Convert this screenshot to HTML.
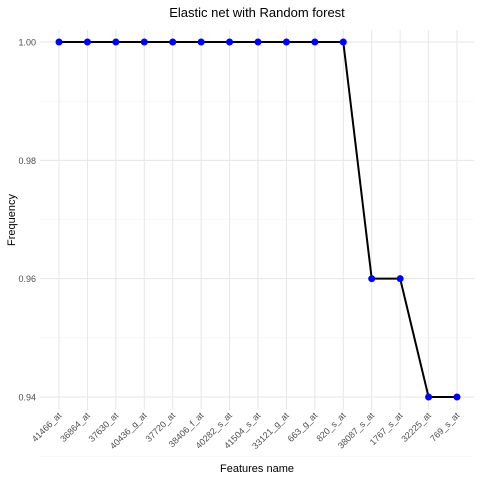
<!DOCTYPE html>
<html><head><meta charset="utf-8"><style>
body{margin:0;background:#fff;}
svg text{font-family:"Liberation Sans",Arial,sans-serif;}
</style></head><body>
<svg id="chart" width="480" height="480" xmlns="http://www.w3.org/2000/svg">
<text x="257" y="17" text-anchor="middle" font-size="13" fill="#000">Elastic net with Random forest</text>
<text x="257" y="472" text-anchor="middle" font-size="11" fill="#000">Features name</text>
<text transform="translate(15,220) rotate(-90)" text-anchor="middle" font-size="11" fill="#000">Frequency</text>
<g id="grid"></g><g id="series"></g><g id="labels"></g>
</svg>
<script>
const categories=["41466_at","36864_at","37630_at","40436_g_at","37720_at","38406_f_at","40282_s_at","41504_s_at","33121_g_at","663_g_at","820_s_at","38087_s_at","1767_s_at","32225_at","769_s_at"];
const frequency=[1,1,1,1,1,1,1,1,1,1,1,0.96,0.96,0.94,0.94];
const yTicks=[0.94,0.96,0.98,1.00];
const yTickLabels=["0.94","0.96","0.98","1.00"];
const NS="http://www.w3.org/2000/svg";
const x=i=>59+i*(457-59)/(categories.length-1);
const y=v=>397-(v-0.94)*(397-42)/0.06;
const grid=document.getElementById('grid'),series=document.getElementById('series'),labels=document.getElementById('labels');
function mk(tag,attrs,parent){const e=document.createElementNS(NS,tag);for(const k in attrs)e.setAttribute(k,attrs[k]);parent.appendChild(e);return e;}
const L=40,R=474,T=30,B=410;
for(let v=0.93;v<=1.005;v+=0.01){const minor=Math.round(v*100)%2===1;const g=mk('line',{x1:L,x2:R,y1:y(v),y2:y(v),stroke:minor?'#f3f3f3':'#e6e6e6','stroke-width':minor?0.6:1},grid);

}
yTicks.forEach((v,i)=>{const t=mk('text',{x:36,y:y(v)+3.5,'text-anchor':'end','font-size':9,fill:'#4d4d4d'},labels);t.textContent=yTickLabels[i];

});
categories.forEach((c,i)=>{const g=mk('line',{x1:x(i),x2:x(i),y1:T,y2:B,stroke:'#e6e6e6','stroke-width':1},grid);


const t=mk('text',{transform:`translate(${x(i)+3},${B+6}) rotate(-45)`,'text-anchor':'end','font-size':9,fill:'#4d4d4d'},labels);t.textContent=c;

});
const pl=mk('polyline',{points:frequency.map((v,i)=>x(i)+','+y(v)).join(' '),fill:'none',stroke:'#000','stroke-width':2},series);


frequency.forEach((v,i)=>{const p=mk('circle',{cx:x(i),cy:y(v),r:3.5,fill:'#0000ff'},series);

});
</script>
</body></html>
